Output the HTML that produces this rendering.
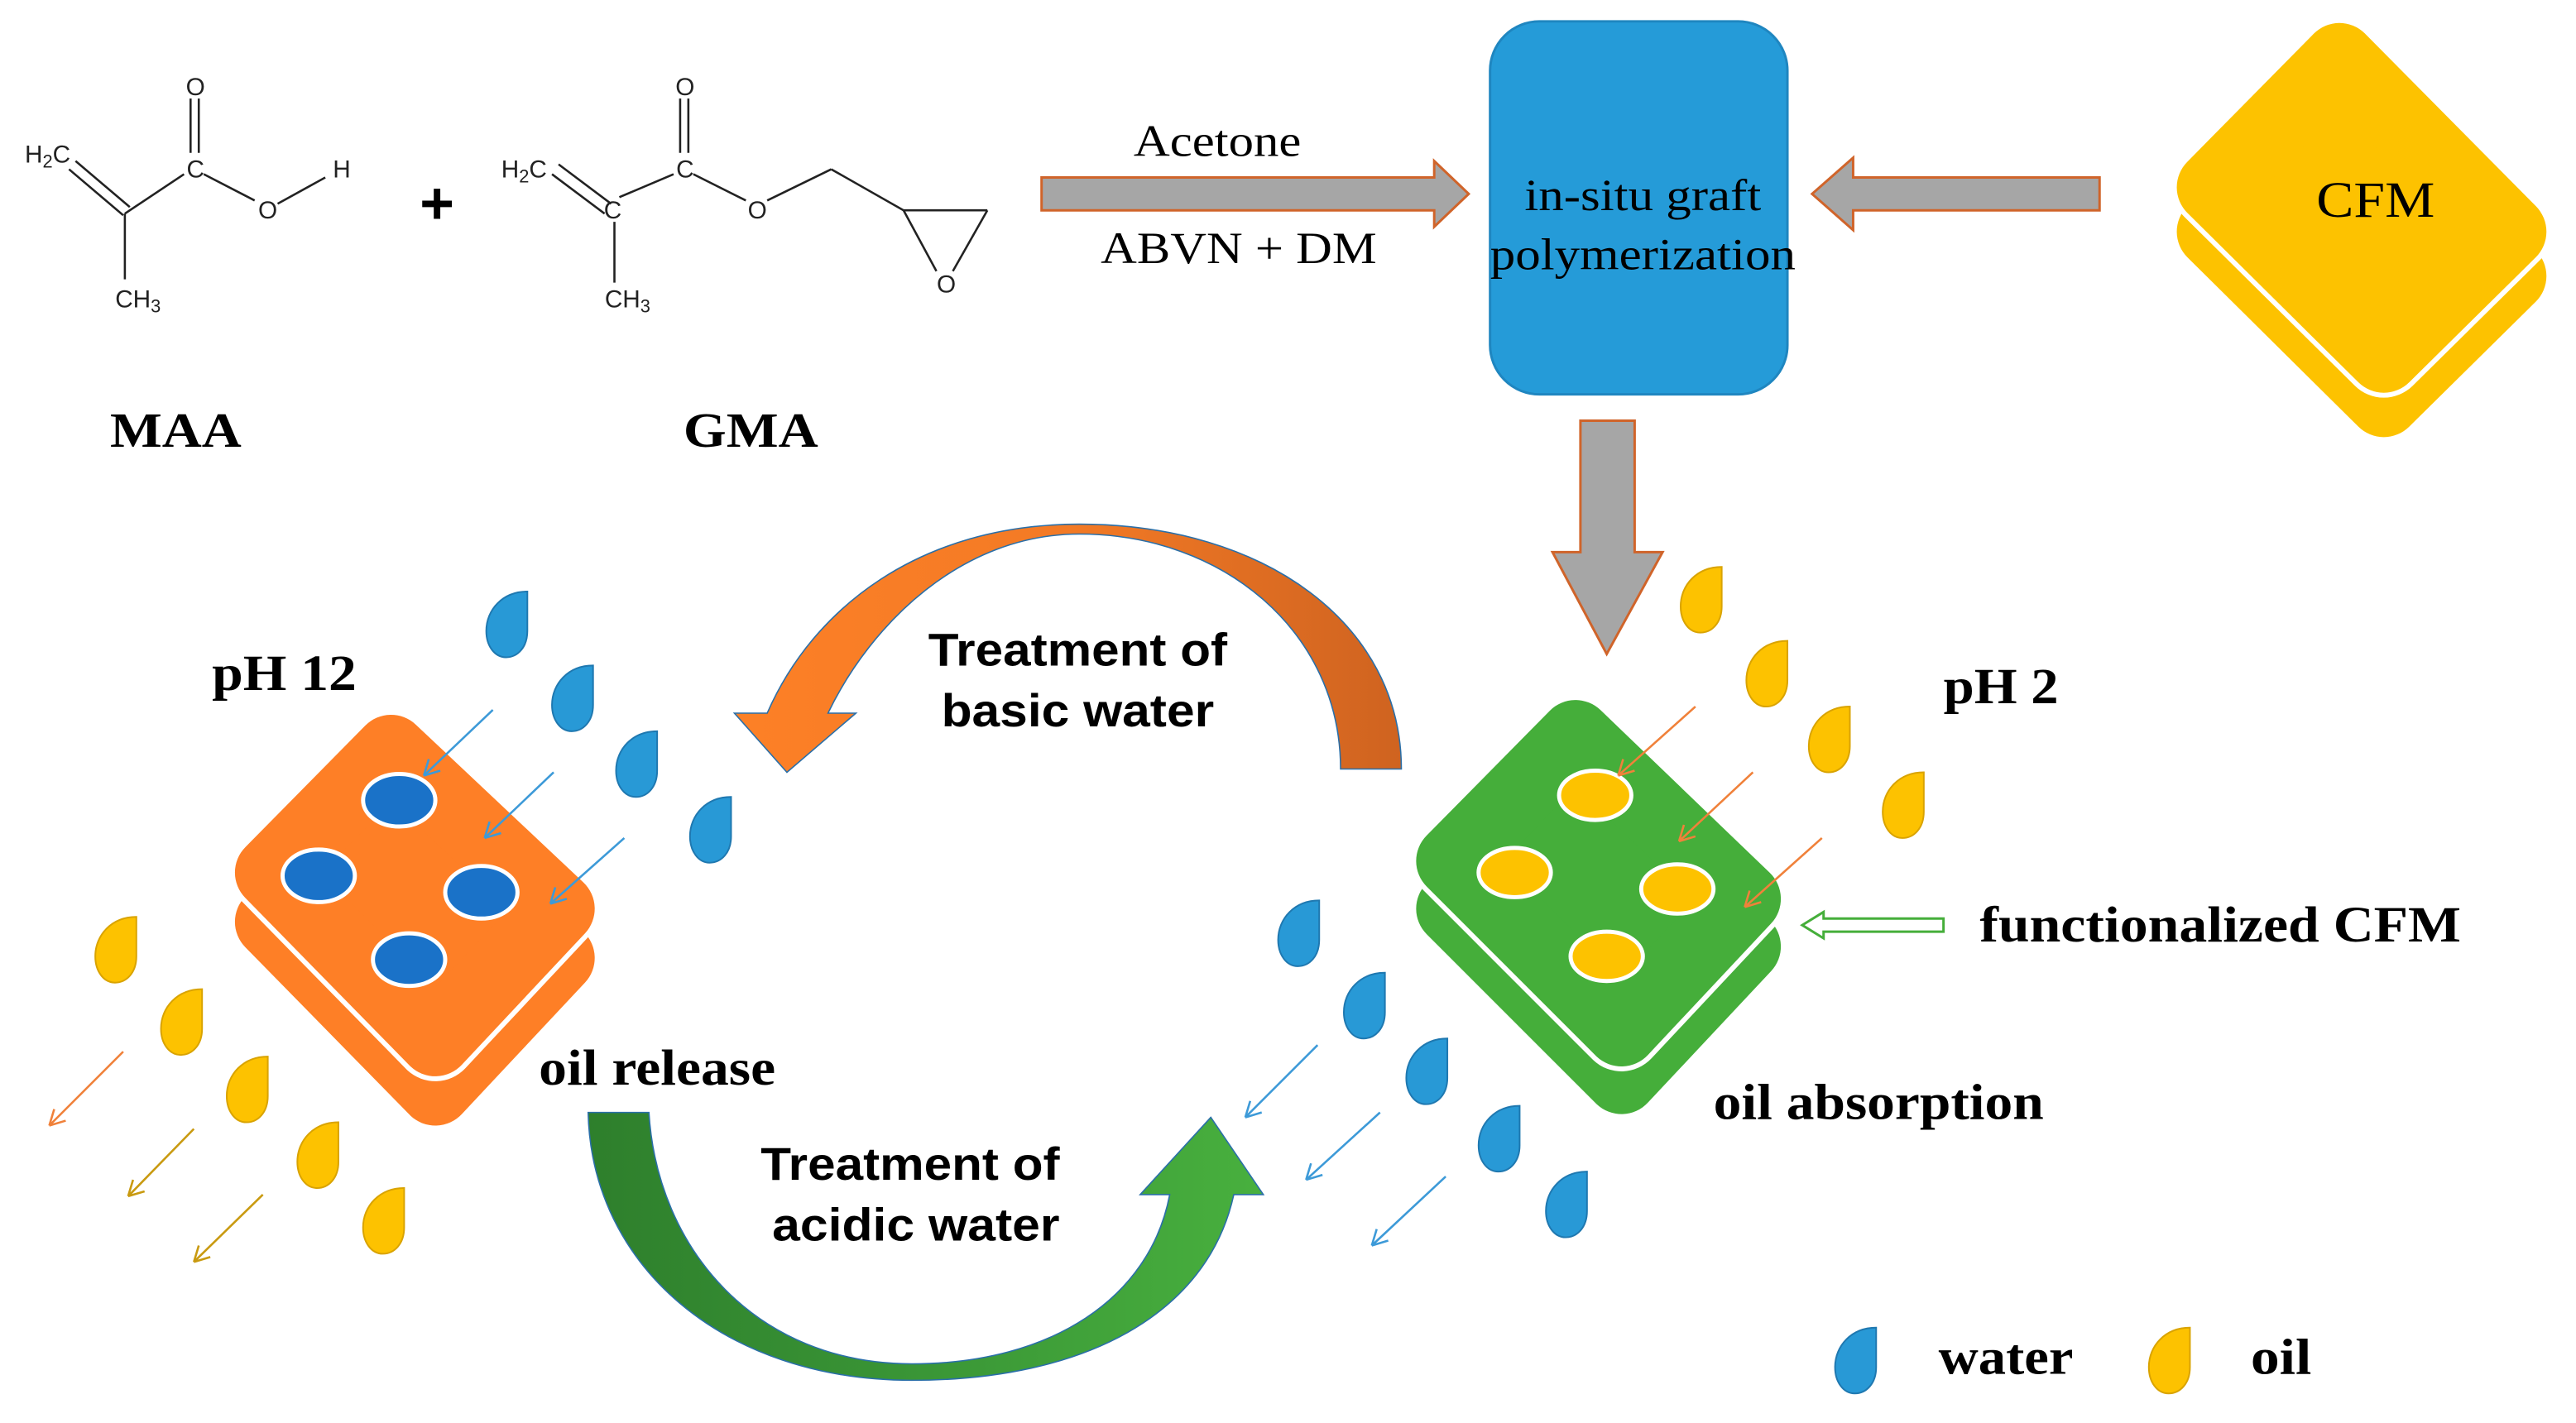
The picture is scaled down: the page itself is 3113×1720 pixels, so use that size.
<!DOCTYPE html>
<html><head><meta charset="utf-8"><style>html,body{margin:0;padding:0;background:#fff;}svg{display:block;}</style></head>
<body>
<svg width="3113" height="1720" viewBox="0 0 1568 866" preserveAspectRatio="none" xmlns="http://www.w3.org/2000/svg">
<defs>
<path id="drop" d="M25,0 L25,24 C25,34 19,40 12,40 C5,40 0,33 0,24 C0,11 10,0 25,0 Z"/>
<linearGradient id="og" x1="0" x2="1" y1="0" y2="0"><stop offset="0" stop-color="#fd8026"/><stop offset="0.5" stop-color="#f37a25"/><stop offset="1" stop-color="#cf6320"/></linearGradient>
<linearGradient id="gg" x1="0" x2="1" y1="0" y2="0"><stop offset="0" stop-color="#2e7f2c"/><stop offset="0.5" stop-color="#3a9636"/><stop offset="1" stop-color="#48b03e"/></linearGradient>
</defs>
<rect width="1568" height="866" fill="#fff"/>

<!-- chemistry -->
<g stroke="#222" stroke-width="1.3" fill="none">
<line x1="42" y1="103" x2="75" y2="131"/><line x1="46" y1="98" x2="79" y2="126"/>
<line x1="76" y1="130" x2="112" y2="106"/>
<line x1="116" y1="93" x2="116" y2="60"/><line x1="121" y1="93" x2="121" y2="60"/>
<line x1="124" y1="106" x2="155" y2="122"/><line x1="169" y1="124" x2="198" y2="108"/>
<line x1="76" y1="130" x2="76" y2="170"/>
<line x1="336" y1="106" x2="368" y2="130"/><line x1="340" y1="100" x2="372" y2="124"/>
<line x1="377" y1="120" x2="410" y2="106"/>
<line x1="414" y1="93" x2="414" y2="60"/><line x1="419" y1="93" x2="419" y2="60"/>
<line x1="422" y1="106" x2="454" y2="122"/><line x1="467" y1="122" x2="506" y2="103"/>
<line x1="506" y1="103" x2="550" y2="128"/>
<line x1="374" y1="135" x2="374" y2="172"/>
<line x1="550" y1="128" x2="601" y2="128"/><line x1="550" y1="128" x2="570" y2="165"/><line x1="601" y1="128" x2="580" y2="165"/>
</g>
<g font-family="Liberation Sans, sans-serif" font-size="15" fill="#222" text-anchor="middle">
<text x="29" y="99">H<tspan font-size="11" dy="3">2</tspan><tspan dy="-3">C</tspan></text>
<text x="119" y="58">O</text><text x="119" y="108">C</text><text x="163" y="133">O</text><text x="208" y="108">H</text>
<text x="84" y="187">CH<tspan font-size="11" dy="3">3</tspan></text>
<text x="319" y="108">H<tspan font-size="11" dy="3">2</tspan><tspan dy="-3">C</tspan></text>
<text x="373" y="133">C</text><text x="417" y="58">O</text><text x="417" y="108">C</text><text x="461" y="133">O</text><text x="576" y="178">O</text>
<text x="382" y="187">CH<tspan font-size="11" dy="3">3</tspan></text>
</g>
<text x="266" y="136" font-family="Liberation Sans, sans-serif" font-weight="bold" font-size="36" text-anchor="middle">+</text>
<g font-family="Liberation Serif, serif" font-weight="bold" font-size="30" fill="#000">
<text x="67" y="272" textLength="80" lengthAdjust="spacingAndGlyphs">MAA</text>
<text x="416" y="272" textLength="82" lengthAdjust="spacingAndGlyphs">GMA</text>
</g>

<!-- top arrows -->
<path d="M634,108 L873,108 L873,98 L894,118 L873,138 L873,128 L634,128 Z" fill="#a6a6a6" stroke="#d0642a" stroke-width="1.5"/>
<path d="M1278,108 L1128,108 L1128,96 L1103,118 L1128,140 L1128,128 L1278,128 Z" fill="#a6a6a6" stroke="#d0642a" stroke-width="1.5"/>
<path d="M962,256 L995,256 L995,336 L1012,336 L978,398 L945,336 L962,336 Z" fill="#a6a6a6" stroke="#d0642a" stroke-width="1.5"/>
<g font-family="Liberation Serif, serif" font-size="27" fill="#000">
<text x="690" y="95" textLength="102" lengthAdjust="spacingAndGlyphs">Acetone</text>
<text x="670" y="160" textLength="168" lengthAdjust="spacingAndGlyphs">ABVN + DM</text>
</g>
<rect x="907" y="13" width="181" height="227" rx="30" fill="#259bd8" stroke="#1f86c0" stroke-width="1.5"/>
<g font-family="Liberation Serif, serif" font-size="27" fill="#000">
<text x="928" y="128" textLength="144" lengthAdjust="spacingAndGlyphs">in-situ graft</text>
<text x="907" y="164" textLength="186" lengthAdjust="spacingAndGlyphs">polymerization</text>
</g>

<!-- CFM -->
<polygon points="1424,63 1528,168 1451,244 1347,141" fill="#fdc200" stroke="#fdc200" stroke-width="44" stroke-linejoin="round"/>
<polygon points="1424,36 1528,141 1451,217 1347,114" fill="#fdc200" stroke="#fff" stroke-width="50" stroke-linejoin="round"/>
<polygon points="1424,36 1528,141 1451,217 1347,114" fill="#fdc200" stroke="#fdc200" stroke-width="44" stroke-linejoin="round"/>
<text x="1410" y="132" font-family="Liberation Serif, serif" font-size="31" textLength="72" lengthAdjust="spacingAndGlyphs">CFM</text>

<!-- cycle arrows -->
<path d="M853,468 C853,380 770,319 657,319 C560,319 495,370 467,434 L447,434 L479,470 L521,434 L504,434 C530,380 585,325 657,325 C745,325 816,385 816,468 Z" fill="url(#og)" stroke="#2a6fa8" stroke-width="0.8"/>
<path d="M358,677 L395,677 C400,760 460,830 555,830 C640,830 700,790 712,727 L694,727 L737,680 L769,727 L751,727 C735,800 660,840 555,840 C440,840 360,770 358,677 Z" fill="url(#gg)" stroke="#2a6fa8" stroke-width="0.8"/>
<g font-family="Liberation Sans, sans-serif" font-weight="bold" font-size="28" fill="#000">
<text x="565" y="405" textLength="182" lengthAdjust="spacingAndGlyphs">Treatment of</text>
<text x="573" y="442" textLength="166" lengthAdjust="spacingAndGlyphs">basic water</text>
<text x="463" y="718" textLength="182" lengthAdjust="spacingAndGlyphs">Treatment of</text>
<text x="470" y="755" textLength="175" lengthAdjust="spacingAndGlyphs">acidic water</text>
</g>

<!-- orange dice -->
<polygon points="238,487 340,583 265,663 165,561" fill="#fe7f26" stroke="#fe7f26" stroke-width="44" stroke-linejoin="round"/>
<polygon points="238,457 340,553 265,633 165,531" fill="#fe7f26" stroke="#fff" stroke-width="50" stroke-linejoin="round"/>
<polygon points="238,457 340,553 265,633 165,531" fill="#fe7f26" stroke="#fe7f26" stroke-width="44" stroke-linejoin="round"/>
<g fill="#1a72c8" stroke="#fff" stroke-width="2.5">
<ellipse cx="243" cy="487" rx="22" ry="16"/><ellipse cx="194" cy="533" rx="22" ry="16"/><ellipse cx="293" cy="543" rx="22" ry="16"/><ellipse cx="249" cy="584" rx="22" ry="16"/>
</g>

<!-- green dice -->
<polygon points="959,477 1062,576 987,656 884,553" fill="#45ae3a" stroke="#45ae3a" stroke-width="44" stroke-linejoin="round"/>
<polygon points="959,448 1062,547 987,627 884,524" fill="#45ae3a" stroke="#fff" stroke-width="50" stroke-linejoin="round"/>
<polygon points="959,448 1062,547 987,627 884,524" fill="#45ae3a" stroke="#45ae3a" stroke-width="44" stroke-linejoin="round"/>
<g fill="#fdc200" stroke="#fff" stroke-width="2.5">
<ellipse cx="971" cy="484" rx="22" ry="15"/><ellipse cx="922" cy="531" rx="22" ry="15"/><ellipse cx="1021" cy="541" rx="22" ry="15"/><ellipse cx="978" cy="582" rx="22" ry="15"/>
</g>

<!-- drops -->
<g fill="#2899d6" stroke="#1f78b0" stroke-width="1">
<use href="#drop" x="296" y="360"/><use href="#drop" x="336" y="405"/><use href="#drop" x="375" y="445"/><use href="#drop" x="420" y="485"/>
<use href="#drop" x="778" y="548"/><use href="#drop" x="818" y="592"/><use href="#drop" x="856" y="632"/><use href="#drop" x="900" y="673"/><use href="#drop" x="941" y="713"/>
<use href="#drop" x="1117" y="808"/>
</g>
<g fill="#fdc200" stroke="#d9a300" stroke-width="1">
<use href="#drop" x="1023" y="345"/><use href="#drop" x="1063" y="390"/><use href="#drop" x="1101" y="430"/><use href="#drop" x="1146" y="470"/>
<use href="#drop" x="58" y="558"/><use href="#drop" x="98" y="602"/><use href="#drop" x="138" y="643"/><use href="#drop" x="181" y="683"/><use href="#drop" x="221" y="723"/>
<use href="#drop" x="1308" y="808"/>
</g>

<!-- thin arrows -->
<g fill="none" stroke-width="1.3">
<g stroke="#3d9ad8">
<path d="M300,432 L258,472 M258,472 L261,462 M258,472 L268,469"/>
<path d="M337,470 L295,510 M295,510 L298,500 M295,510 L305,507"/>
<path d="M380,510 L335,550 M335,550 L338,540 M335,550 L345,547"/>
<path d="M802,636 L758,680 M758,680 L761,670 M758,680 L768,677"/>
<path d="M840,677 L795,718 M795,718 L798,708 M795,718 L805,715"/>
<path d="M880,716 L835,758 M835,758 L838,748 M835,758 L845,755"/>
</g>
<g stroke="#f0813a">
<path d="M1032,430 L985,472 M985,472 L988,462 M985,472 L995,469"/>
<path d="M1067,470 L1022,512 M1022,512 L1025,502 M1022,512 L1032,509"/>
<path d="M1109,510 L1062,552 M1062,552 L1065,542 M1062,552 L1072,549"/>
<path d="M75,640 L30,685 M30,685 L33,675 M30,685 L40,682"/>
</g>
<g stroke="#c99a10">
<path d="M118,687 L78,728 M78,728 L81,718 M78,728 L88,725"/>
<path d="M160,727 L118,768 M118,768 L121,758 M118,768 L128,765"/>
</g>
</g>
<path d="M1183,559 L1110,559 L1110,555 L1097,563 L1110,571 L1110,567 L1183,567 Z" fill="#fff" stroke="#45ae3a" stroke-width="1.5"/>

<!-- labels -->
<g font-family="Liberation Serif, serif" font-weight="bold" font-size="31" fill="#000">
<text x="129" y="420" textLength="88" lengthAdjust="spacingAndGlyphs">pH 12</text>
<text x="1183" y="428" textLength="70" lengthAdjust="spacingAndGlyphs">pH 2</text>
<text x="328" y="660" textLength="144" lengthAdjust="spacingAndGlyphs">oil release</text>
<text x="1205" y="573" textLength="293" lengthAdjust="spacingAndGlyphs">functionalized CFM</text>
<text x="1043" y="681" textLength="201" lengthAdjust="spacingAndGlyphs">oil absorption</text>
<text x="1180" y="836" textLength="82" lengthAdjust="spacingAndGlyphs">water</text>
<text x="1370" y="836" textLength="37" lengthAdjust="spacingAndGlyphs">oil</text>
</g>
</svg>
</body></html>
